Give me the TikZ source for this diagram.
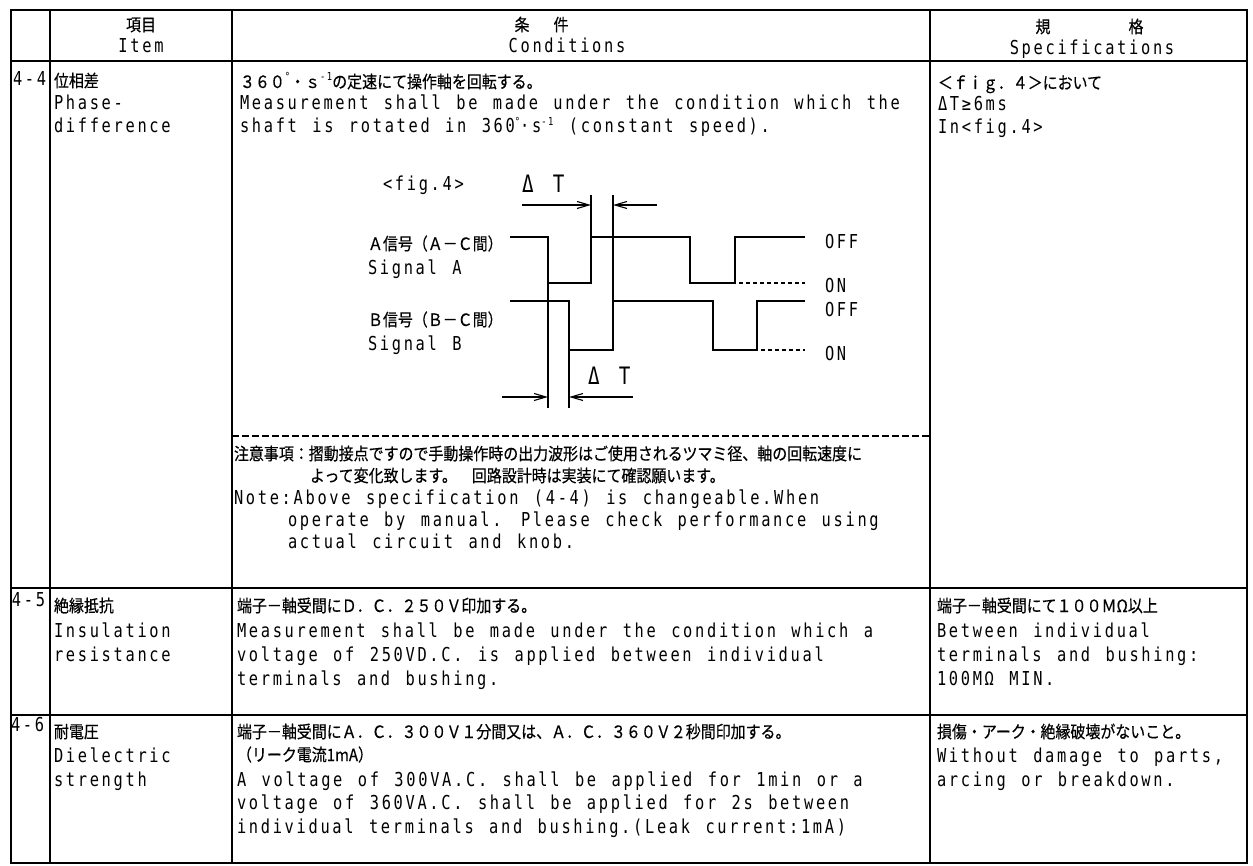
\documentclass[tikz,border=0pt]{standalone}
\usepackage{fontspec}
\setmainfont[FakeStretch=0.8,LetterSpace=14,WordSpace=1.29]{DejaVu Sans Mono}
\newfontfamily\jp[FakeStretch=0.88,FakeBold=0.4]{Noto Sans CJK JP}
\usetikzlibrary{arrows.meta}
\newcommand\J[1]{{\jp\fontsize{17}{18}\selectfont #1}}
\newcommand\sups[1]{\raisebox{7pt}{\fontsize{11}{11}\selectfont #1}}
\tikzset{
  txt/.style={anchor=base west,inner sep=0pt,outer sep=0pt,font=\fontsize{19.2}{23}\selectfont},
  txtc/.style={txt,anchor=base},
  gridline/.style={line width=2pt,line cap=square},
  outerline/.style={line width=2.6pt,line cap=square},
  sig/.style={line width=2.4pt,line join=miter},
  sigdot/.style={line width=2.6pt,dash pattern=on 4pt off 3pt},
  dimline/.style={line width=1.1pt},
  dimarrow/.style={line width=1.1pt,-{Straight Barb[length=12pt,width=7pt]}},
  notedash/.style={line width=1.8pt,dash pattern=on 7pt off 3pt}
}
\begin{document}
\begin{tikzpicture}[x=1pt,y=-1pt]
\useasboundingbox (0,0) rectangle (1253,866);
\fill[white] (0,0) rectangle (1253,866);
% ---------- table grid ----------
\coordinate (TL) at (11,10);
\coordinate (BR) at (1247,863);
\draw[outerline] (TL) rectangle (BR);
\draw[gridline] (50,10) -- (50,863);
\draw[gridline] (232,10) -- (232,863);
\draw[gridline] (930,10) -- (930,863);
\draw[gridline] (11,61) -- (1247,61);
\draw[gridline] (11,588) -- (1247,588);
\draw[gridline] (11,715) -- (1247,715);
\draw[notedash] (232,436) -- (930,436);
% ---------- header ----------
\node[txtc] (h1j) at (141,31) {\J{項目}};
\node[txtc] (h1e) at (141,53) {Item};
\node[txtc] (h2j1) at (522,31) {\J{条}};
\node[txtc] (h2j2) at (561,31) {\J{件}};
\node[txtc] (h2e) at (567,53) {Conditions};
\node[txtc] (h3j1) at (1043,33) {\J{規}};
\node[txtc] (h3j2) at (1136,33) {\J{格}};
\node[txtc] (h3e) at (1092,55) {Specifications};
% ---------- row 4-4 ----------
\node[txt] (n44) at (13,86) {4-4};
\node[txt] (i44a) at (54,87) {\J{位相差}};
\node[txt] (i44b) at (54,110) {Phase-};
\node[txt] (i44c) at (54,133) {difference};
\node[txt] (c44a) at (240,88) {\J{３６０}\sups{°}\J{・ｓ}\sups{-1}\J{の定速にて操作軸を回転する。}};
\node[txt] (c44b) at (240,110) {Measurement shall be made under the condition which the};
\node[txt] (c44c) at (240,133) {shaft is rotated in 360\sups{°}·s\sups{-1} (constant speed).};
\node[txt] (s44a) at (938,89) {\J{＜ｆｉｇ．４＞において}};
\node[txt] (s44b) at (938,111) {ΔT≥6ms};
\node[txt] (s44c) at (938,134) {In<fig.4>};
% ---------- figure ----------
\node[txt] (fig) at (383,191) {<fig.4>};
\node[txt,font=\fontsize{24}{24}\selectfont] (dtTop) at (522,193) {Δ T};
\node[txt,font=\fontsize{24}{24}\selectfont] (dtBot) at (588,385) {Δ T};
\node[txt] (la1) at (368,250) {\J{Ａ信号（Ａ－Ｃ間）}};
\node[txt] (la2) at (368,275) {Signal A};
\node[txt] (lb1) at (368,326) {\J{Ｂ信号（Ｂ－Ｃ間）}};
\node[txt] (lb2) at (368,351) {Signal B};
\node[txt] (offA) at (825,249) {OFF};
\node[txt] (onA) at (825,293) {ON};
\node[txt] (offB) at (825,317) {OFF};
\node[txt] (onB) at (825,361) {ON};
% signal A
\draw[sig] (510,237) -- (548,237) -- (548,283) -- (591,283) -- (591,237) -- (690,237) -- (690,283) -- (735,283) -- (735,237) -- (805,237);
\draw[sigdot] (739,283) -- (805,283);
% signal B
\draw[sig] (510,301) -- (569,301) -- (569,350) -- (613,350) -- (613,301) -- (713,301) -- (713,350) -- (757,350) -- (757,301) -- (805,301);
\draw[sigdot] (761,350) -- (805,350);
% dimension lines top
\draw[dimline] (591,195) -- (591,237);
\draw[dimline] (613,195) -- (613,301);
\draw[dimarrow] (522,205) -- (591,205);
\draw[dimarrow] (657,205) -- (613,205);
% dimension lines bottom
\draw[dimline] (548,283) -- (548,408);
\draw[dimline] (569,350) -- (569,408);
\draw[dimarrow] (502,397) -- (548,397);
\draw[dimarrow] (633,397) -- (569,397);
% ---------- note ----------
\node[txt] (nt1) at (234,460) {\J{注意事項：摺動接点ですので手動操作時の出力波形はご使用されるツマミ径、軸の回転速度に}};
\node[txt] (nt2) at (310,482) {\J{よって変化致します。　回路設計時は実装にて確認願います。}};
\node[txt] (nt3) at (234,504) {Note:Above specification (4-4) is changeable.When};
\node[txt] (nt4) at (288,526) {operate by manual. Please check performance using};
\node[txt] (nt5) at (288,548) {actual circuit and knob.};
% ---------- row 4-5 ----------
\node[txt] (n45) at (12,606) {4-5};
\node[txt] (i45a) at (54,612) {\J{絶縁抵抗}};
\node[txt] (i45b) at (54,637) {Insulation};
\node[txt] (i45c) at (54,661) {resistance};
\node[txt] (c45a) at (237,612) {\J{端子－軸受間にＤ．Ｃ．２５０Ｖ印加する。}};
\node[txt] (c45b) at (237,637) {Measurement shall be made under the condition which a};
\node[txt] (c45c) at (237,661) {voltage of 250VD.C. is applied between individual};
\node[txt] (c45d) at (237,685) {terminals and bushing.};
\node[txt] (s45a) at (937,612) {\J{端子－軸受間にて１００ＭΩ以上}};
\node[txt] (s45b) at (937,637) {Between individual};
\node[txt] (s45c) at (937,661) {terminals and bushing:};
\node[txt] (s45d) at (937,685) {100MΩ MIN.};
% ---------- row 4-6 ----------
\node[txt] (n46) at (11,731) {4-6};
\node[txt] (i46a) at (54,738) {\J{耐電圧}};
\node[txt] (i46b) at (54,762) {Dielectric};
\node[txt] (i46c) at (54,786) {strength};
\node[txt] (c46a) at (237,738) {\J{端子－軸受間にＡ．Ｃ．３００Ｖ１分間又は、Ａ．Ｃ．３６０Ｖ２秒間印加する。}};
\node[txt] (c46b) at (237,761) {\J{（リーク電流1mA）}};
\node[txt] (c46c) at (237,786) {A voltage of 300VA.C. shall be applied for 1min or a};
\node[txt] (c46d) at (237,809) {voltage of 360VA.C. shall be applied for 2s between};
\node[txt] (c46e) at (237,833) {individual terminals and bushing.(Leak current:1mA)};
\node[txt] (s46a) at (937,738) {\J{損傷・アーク・絶縁破壊がないこと。}};
\node[txt] (s46b) at (937,762) {Without damage to parts,};
\node[txt] (s46c) at (937,786) {arcing or breakdown.};
\end{tikzpicture}
\end{document}
